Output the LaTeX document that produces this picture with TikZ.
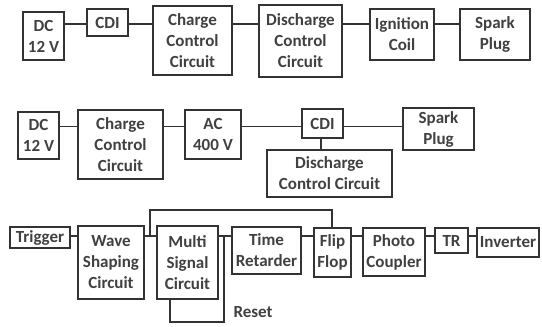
\documentclass[tikz,border=0pt]{standalone}
\usepackage{fontspec}
\setmainfont{Carlito}
\definecolor{ink}{HTML}{333333}
\definecolor{txt}{HTML}{404040}
\begin{document}
\begin{tikzpicture}[x=1pt,y=-1pt,
  blk/.style={draw=ink,line width=1.8pt,inner sep=0pt,align=center,text=txt,
    font=\bfseries\fontsize{17}{21}\selectfont},
  wire/.style={draw=ink,line width=1.6pt}]
\useasboundingbox (0,0) rectangle (542,327);
% Row 1
\node[blk,minimum width=41pt,minimum height=48pt] (dca) at (43.5,36) {DC\\12 V};
\node[blk,minimum width=41pt,minimum height=27pt] (cdia) at (107.5,22.5) {CDI};
\node[blk,minimum width=79pt,minimum height=69pt] (ccca) at (192.5,40.5) {Charge\\Control\\Circuit};
\node[blk,minimum width=83pt,minimum height=72pt] (dcca) at (300.5,41) {Discharge\\Control\\Circuit};
\node[blk,minimum width=64pt,minimum height=51pt] (ign) at (402,34.5) {Ignition\\Coil};
\node[blk,minimum width=70pt,minimum height=51pt] (spa) at (495,34.5) {Spark\\Plug};
\coordinate (La) at (0,24);
\draw[wire] (dca.east |- La) -- (cdia.west |- La);
\draw[wire] (cdia.east |- La) -- (ccca.west |- La);
\draw[wire] (ccca.east |- La) -- (dcca.west |- La);
\draw[wire] (dcca.east |- La) -- (ign.west |- La);
\draw[wire] (ign.east |- La) -- (spa.west |- La);
% Row 2
\node[blk,minimum width=41pt,minimum height=47pt] (dcb) at (38.5,135.5) {DC\\12 V};
\node[blk,minimum width=85pt,minimum height=69pt] (cccb) at (120.5,144.5) {Charge\\Control\\Circuit};
\node[blk,minimum width=56pt,minimum height=49pt] (ac) at (213,134.5) {AC\\400 V};
\node[blk,minimum width=41pt,minimum height=29pt] (cdib) at (322.5,123.5) {CDI};
\node[blk,minimum width=71pt,minimum height=42pt] (spb) at (438.5,129) {Spark\\Plug};
\node[blk,minimum width=125pt,minimum height=47pt] (dccb) at (329.5,173.5) {Discharge\\Control Circuit};
\coordinate (Lb) at (0,126.5);
\coordinate (Vb) at (321,0);
\draw[wire] (dcb.east |- Lb) -- (cccb.west |- Lb);
\draw[wire] (cccb.east |- Lb) -- (ac.west |- Lb);
\draw[wire] (ac.east |- Lb) -- (cdib.west |- Lb);
\draw[wire] (cdib.east |- Lb) -- (spb.west |- Lb);
\draw[wire] (cdib.south -| Vb) -- (dccb.north -| Vb);
% Row 3
\node[blk,minimum width=60pt,minimum height=21pt] (trig) at (40,237.5) {Trigger};
\node[blk,minimum width=66pt,minimum height=73pt] (wave) at (111,262.5) {Wave\\Shaping\\Circuit};
\node[blk,minimum width=61pt,minimum height=73pt] (multi) at (187.5,262.5) {Multi\\Signal\\Circuit};
\node[blk,minimum width=69pt,minimum height=47pt] (time) at (266.5,250.5) {Time\\Retarder};
\node[blk,minimum width=37pt,minimum height=49pt] (ff) at (332.5,252.5) {Flip\\Flop};
\node[blk,minimum width=62pt,minimum height=48pt] (photo) at (394,252) {Photo\\Coupler};
\node[blk,minimum width=33pt,minimum height=25pt] (tr) at (451.5,240.5) {TR};
\node[blk,minimum width=62pt,minimum height=29pt] (inv) at (508,242.5) {Inverter};
\coordinate (Lc) at (0,236);
\draw[wire] (trig.east |- Lc) -- (wave.west |- Lc);
\draw[wire] (wave.east |- Lc) -- (multi.west |- Lc);
\draw[wire] (multi.east |- Lc) -- (time.west |- Lc);
\draw[wire] (time.east |- Lc) -- (ff.west |- Lc);
\draw[wire] (ff.east |- Lc) -- (photo.west |- Lc);
\draw[wire] (photo.east |- Lc) -- (tr.west |- Lc);
\draw[wire] (tr.east |- Lc) -- (inv.west |- Lc);
% feedback loops
\coordinate (ja) at (150,236);
\coordinate (jb) at (224,236);
\coordinate (rs) at (170,0);
\draw[wire] (ja) -- (150,210) -- (332,210) -- (ff.north -| 332,0);
\draw[wire] (multi.south -| rs) -- (170,322) -- (224,322) -- (jb);
\node[font=\bfseries\fontsize{17}{21}\selectfont,text=txt,inner sep=0pt] (reset) at (253,312) {Reset};
\end{tikzpicture}
\end{document}
